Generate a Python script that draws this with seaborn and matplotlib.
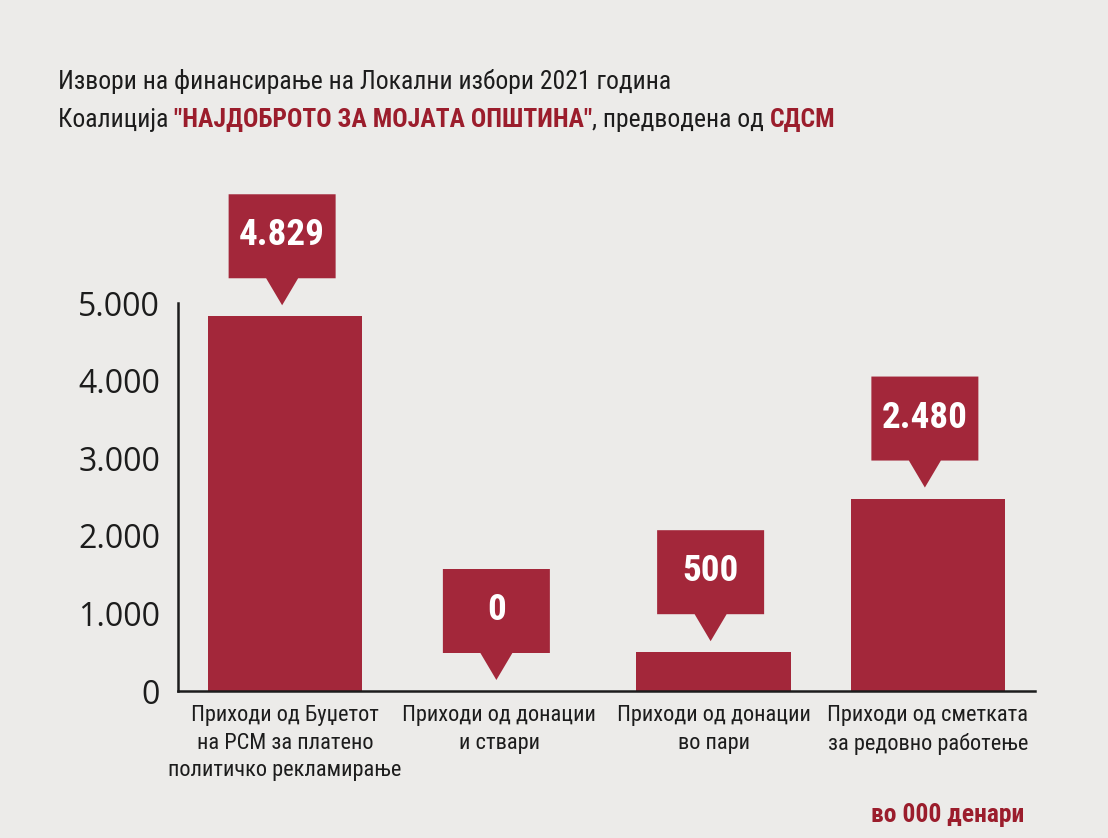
import os
import matplotlib
matplotlib.use("Agg")
import matplotlib.pyplot as plt
import matplotlib.transforms as mtransforms
from matplotlib import font_manager as fm
from matplotlib.patches import Polygon
import seaborn as sns

# data (in 000 denari)
categories = ["Приходи од Буџетот\nна РСМ за платено\nполитичко рекламирање",
              "Приходи од донации\nи ствари",
              "Приходи од донации\nво пари",
              "Приходи од сметката\nза редовно работење"]
values = [4829, 0, 500, 2480]
yticks = [0, 1000, 2000, 3000, 4000, 5000]

title_1 = "Извори на финансирање на Локални избори 2021 година"
title_2 = [("Коалиција ", False), ("\"НАЈДОБРОТО ЗА МОЈАТА ОПШТИНА\"", True),
           (", предводена од ", False), ("СДСМ", True)]
unit_note = "во 000 денари"

BAR = "#A3273A"
RED_TXT = "#9B1D2C"
PAPER = "#ECEBE9"
INK = "#1C1C1C"


def pick_font(patterns):
    files = {os.path.basename(f.fname).lower().replace("-", "").replace("_", ""): f.fname
             for f in fm.fontManager.ttflist}
    for p in patterns:
        if p in files:
            return fm.FontProperties(fname=files[p])
    return None


# a condensed face, if one is installed; otherwise plain DejaVu Sans
fp_reg = pick_font(["robotocondensedregular.ttf", "notosanscondensed.ttf",
                    "liberationsansnarrowregular.ttf", "dejavusanscondensed.ttf",
                    "opensanscondensedregular.ttf"])
fp_bold = pick_font(["robotocondensedbold.ttf", "notosanscondensedbold.ttf",
                     "liberationsansnarrowbold.ttf", "dejavusanscondensedbold.ttf",
                     "opensanscondensedbold.ttf"])
if fp_reg is None:
    fp_reg = fm.FontProperties(family="DejaVu Sans")
if fp_bold is None:
    fp_bold = fm.FontProperties(family="DejaVu Sans", weight="bold")


def font(bold, size):
    f = (fp_bold if bold else fp_reg).copy()
    f.set_size(size)
    return f


sns.set_style("white")
plt.rcParams["font.family"] = ["DejaVu Sans"]

fig = plt.figure(figsize=(11.08, 8.38), dpi=100, facecolor=PAPER)
renderer = fig.canvas.get_renderer()

# size factor so the title line is as wide as in the print (about 610 px)
probe = fig.text(0, 0, title_1, fontproperties=font(False, 20))
k = min(1.0, 610 / probe.get_window_extent(renderer).width)
probe.remove()

ax = fig.add_axes([178 / 1108, 1 - 691 / 838, (1035 - 178) / 1108, (691 - 303) / 838])
ax.set_facecolor(PAPER)

sns.barplot(x=categories, y=values, color=BAR, saturation=1, width=0.72,
            linewidth=0, edgecolor=BAR, ax=ax)

ax.set_xlim(-0.5, 3.5)
ax.set_ylim(0, 5000)
ax.set_yticks(yticks)
ax.set_yticklabels([f"{t:,}".replace(",", ".") for t in yticks],
                   family=["Open Sans", "DejaVu Sans"], fontsize=23, color=INK)
ax.set_xticks([0.5, 1.5, 2.5, 3.5], minor=True)
ax.tick_params(axis="y", direction="in", length=14, width=1.8, pad=13, colors=INK)
ax.tick_params(axis="x", which="major", length=0, pad=10, labelcolor=INK)
ax.tick_params(axis="x", which="minor", direction="in", length=6, width=1.4, color=INK)
for lbl in ax.get_xticklabels():
    lbl.set_fontproperties(font(False, 17.5 * k))
    lbl.set_linespacing(1.42)
ax.set_xlabel("")
ax.set_ylabel("")

for side in ("top", "right"):
    ax.spines[side].set_visible(False)
for side in ("left", "bottom"):
    ax.spines[side].set_color(INK)
    ax.spines[side].set_linewidth(1.8)

# callout boxes above each bar (shape in pixels, anchored at bar top)
gap, ph, bh, hw, pw, dx = 11, 27, 84, 53.5, 16, -3
shape = [(dx, gap), (dx - pw, gap + ph), (dx - hw, gap + ph), (dx - hw, gap + ph + bh),
         (dx + hw, gap + ph + bh), (dx + hw, gap + ph), (dx + pw, gap + ph)]
for i, v in enumerate(values):
    tr = mtransforms.Affine2D().scale(fig.dpi / 100) + \
        mtransforms.ScaledTranslation(i, v, ax.transData)
    ax.add_patch(Polygon(shape, closed=True, transform=tr, facecolor=BAR,
                         edgecolor="none", clip_on=False, zorder=5))
    ax.annotate(f"{v:,}".replace(",", "."), xy=(i, v),
                xytext=(dx * 0.72, (gap + ph + bh / 2 + 1) * 0.72), textcoords="offset points",
                ha="center", va="center", fontproperties=font(True, 29 * k),
                color="white", zorder=6, annotation_clip=False)

# title, second line in mixed colours
fig.text(58 / 1108, 1 - 89 / 838, title_1, fontproperties=font(False, 20 * k),
         color=INK, va="baseline")
x0 = 58
for part, hot in title_2:
    t = fig.text(x0 / 1108, 1 - 127 / 838, part, va="baseline",
                 fontproperties=font(hot, 20 * k), color=RED_TXT if hot else INK)
    x0 = t.get_window_extent(renderer).x1

fig.text(1024 / 1108, 1 - 822 / 838, unit_note, ha="right", va="baseline",
         fontproperties=font(True, 20 * k), color=RED_TXT)

fig.savefig("out.png", dpi=100, facecolor=PAPER)
